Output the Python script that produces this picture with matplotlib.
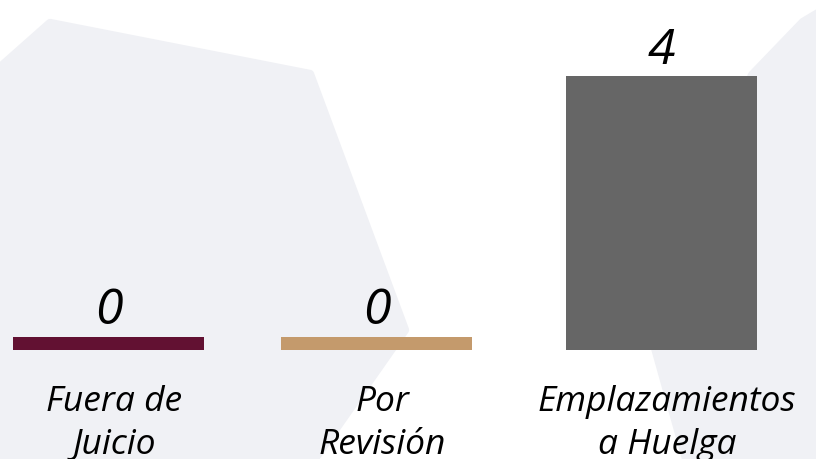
import matplotlib.pyplot as plt
import numpy as np
from matplotlib.patches import Polygon

categorias = ["Fuera de\nJuicio", "Por\nRevisión", "Emplazamientos\na Huelga"]
valores = [0, 0, 4]
colores = ["#621132", "#c49a6c", "#666666"]

W, H = 816, 459
fig = plt.figure(figsize=(W / 100, H / 100), dpi=100)
fig.patch.set_facecolor("white")

# fondo: hexagonos grises claros (coordenadas en pixeles, origen arriba)
def hexagono(pts):
    xy = [(x / W, 1 - y / H) for x, y in pts]
    p = Polygon(xy, closed=True, transform=fig.transFigure, facecolor="#f0f1f5",
                edgecolor="#f0f1f5", lw=6, joinstyle="round", zorder=0)
    fig.add_artist(p)

hexagono([(-20, 85), (50, 23), (310, 74), (405, 330), (300, 480), (-20, 480)])
hexagono([(803, 22), (840, 0), (840, 480), (692, 480), (650, 330), (752, 75)])

ax = fig.add_axes([0, 1 - 350 / H, 1, (350 - 76) / H])
ax.set_facecolor("none")
pos = np.array([0, 0.971, 2])
px = 276.5
ax.set_xlim(-108.5 / px, (W - 108.5) / px)
ax.set_ylim(0, 4)
minimo = 13 / 274 * 4
alturas = np.maximum(valores, minimo)
ax.bar(pos, alturas, width=191 / px, color=colores, zorder=2)

fuente = "Open Sans"
for xi, v, h in zip(pos, valores, alturas):
    ax.annotate(str(v), (xi, h), xytext=(0, 9), textcoords="offset points",
                ha="center", va="baseline", fontsize=36, style="italic",
                family=fuente, annotation_clip=False)

for xi, c in zip(pos, categorias):
    ax.text(xi + 0.02, -104 / 274 * 4, c, ha="center", va="baseline", fontsize=25.5,
            style="italic", family=fuente, linespacing=1.36, clip_on=False)

for s in ax.spines.values():
    s.set_visible(False)
ax.set_xticks([])
ax.set_yticks([])

fig.savefig("out.png", dpi=100)
